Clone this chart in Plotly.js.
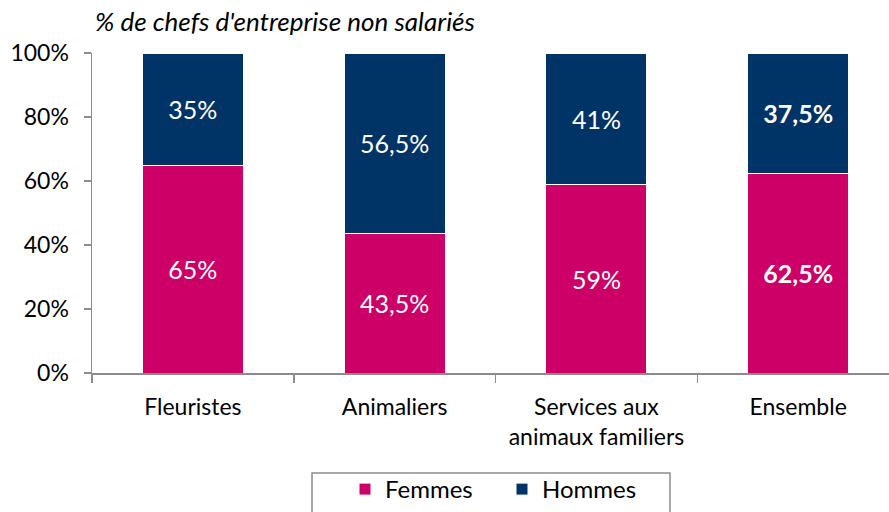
<!DOCTYPE html>
<html>
<head>
<meta charset="utf-8">
<script src="https://cdn.plot.ly/plotly-3.0.1.min.js"></script>
<style>
html,body{margin:0;padding:0;background:#fff;}
#chart{width:889px;height:512px;}
</style>
</head>
<body>
<div id="chart"></div>
<script>
const categories = ["Fleuristes", "Animaliers", "Services aux<br>animaux familiers", "Ensemble"];
const femmes = [65, 43.5, 59, 62.5];
const hommes = [35, 56.5, 41, 37.5];
const boldCategory = [false, false, false, true];
const seriesNames = ["Femmes", "Hommes"];
const chartTitle = "% de chefs d'entreprise non salariés";

function fmt(v, bold) {
  const s = String(v).replace('.', ',') + '%';
  return bold ? '<b>' + s + '</b>' : s;
}

const FONT = 'Lato, "Open Sans", sans-serif';

const traces = [
  {
    type: 'bar', name: seriesNames[0], x: categories, y: femmes,
    text: femmes.map((v, i) => fmt(v, boldCategory[i])),
    textposition: 'inside', insidetextanchor: 'middle',
    textfont: {color: '#ffffff', size: 25, family: FONT},
    marker: {color: '#CC0066', line: {color: '#ffffff', width: 1}},
    hoverinfo: 'none'
  },
  {
    type: 'bar', name: seriesNames[1], x: categories, y: hommes,
    text: hommes.map((v, i) => fmt(v, boldCategory[i])),
    textposition: 'inside', insidetextanchor: 'middle',
    textfont: {color: '#ffffff', size: 25, family: FONT},
    marker: {color: '#003366', line: {color: '#ffffff', width: 1}},
    hoverinfo: 'none'
  }
];

const layout = {
  width: 889, height: 512,
  barmode: 'stack', bargap: 0.5,
  margin: {l: 92, r: 0, t: 53, b: 139},
  paper_bgcolor: '#ffffff', plot_bgcolor: '#ffffff',
  font: {family: FONT, size: 23, color: '#000000'},
  title: {
    text: '<i>' + chartTitle + '</i>',
    x: 95 / 889, xanchor: 'left', xref: 'container',
    y: 1 - 22 / 512, yanchor: 'middle', yref: 'container',
    font: {family: FONT, size: 26, color: '#000000'}
  },
  xaxis: {
    type: 'category', range: [-0.5, 3.45],
    showline: true, linecolor: '#8c8c8c', linewidth: 1.5,
    ticks: 'outside', tickson: 'boundaries', ticklen: 8, tickcolor: '#8c8c8c', tickwidth: 1.5,
    showgrid: false, zeroline: false, ticklabelstandoff: 13,
    tickfont: {family: FONT, size: 23, color: '#000000'}
  },
  yaxis: {
    range: [0, 100], dtick: 20, ticksuffix: '%',
    showline: true, linecolor: '#8c8c8c', linewidth: 1.5,
    ticks: 'outside', ticklen: 7, tickcolor: '#8c8c8c', tickwidth: 1.5,
    showgrid: false, zeroline: false, ticklabelstandoff: 10,
    tickfont: {family: FONT, size: 23, color: '#000000'}
  },
  shapes: [{
    type: 'rect', xref: 'paper', yref: 'paper',
    x0: (312 - 92) / 797, x1: (670 - 92) / 797,
    y0: -0.46, y1: -0.3125,
    line: {color: '#8c8c8c', width: 1.5}, fillcolor: 'rgba(0,0,0,0)', layer: 'below'
  }],
  showlegend: true,
  legend: {
    orientation: 'h', x: (502 - 92) / 797, xanchor: 'center', y: -139 / 320, yanchor: 'bottom',
    borderwidth: 0, bgcolor: 'rgba(0,0,0,0)',
    font: {family: FONT, size: 24, color: '#000000'},
    traceorder: 'normal', itemwidth: 30, entrywidth: 112
  }
};

Plotly.newPlot('chart', traces, layout, {staticPlot: true, displayModeBar: false});
</script>
</body>
</html>
